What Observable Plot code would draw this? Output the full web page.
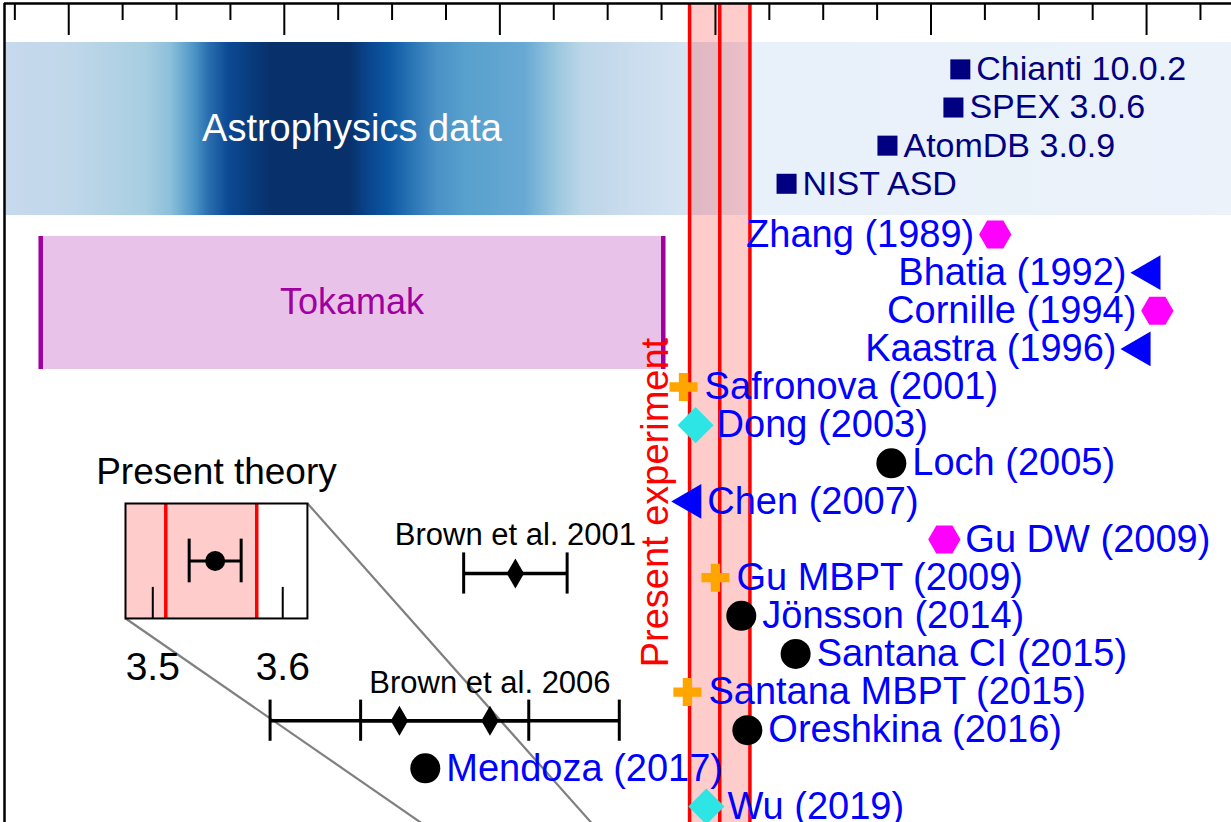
<!DOCTYPE html>
<html>
<head>
<meta charset="utf-8">
<script src="https://cdn.jsdelivr.net/npm/d3@7"></script>
<script src="https://cdn.jsdelivr.net/npm/@observablehq/plot@0.6"></script>
<style>
  html, body { margin: 0; padding: 0; background: #fff; overflow: hidden; }
  #chart { position: relative; width: 1231px; height: 822px; overflow: hidden; }
  #chart > svg { position: absolute; left: 0; top: 0; }
</style>
</head>
<body>
<div id="chart"></div>
<script>
// ---------------- DATA ----------------
// Atomic databases used in astrophysics (3C/3D oscillator-strength ratio)
const astroNames  = ["Chianti 10.0.2", "SPEX 3.0.6", "AtomDB 3.0.9", "NIST ASD"];
const astroValues = [4.068, 4.052, 3.899, 3.665];

// Theoretical predictions
const theoryNames = [
  "Zhang (1989)", "Bhatia (1992)", "Cornille (1994)", "Kaastra (1996)",
  "Safronova (2001)", "Dong (2003)", "Loch (2005)", "Chen (2007)",
  "Gu DW (2009)", "Gu MBPT (2009)", "Jönsson (2014)", "Santana CI (2015)",
  "Santana MBPT (2015)", "Oreshkina (2016)", "Mendoza (2017)", "Wu (2019)"
];
const theoryValues = [
  4.149, 4.509, 4.525, 4.486,
  3.426, 3.454, 3.908, 3.444,
  4.031, 3.500, 3.560, 3.686,
  3.435, 3.574, 2.827, 3.479
];
const theoryMethods = [
  "DW", "CC", "DW", "CC",
  "MBPT", "MCDF", "CI", "CC",
  "DW", "MBPT", "CI", "CI",
  "MBPT", "CI", "CI", "MCDF"
];

// Tokamak measurements (range) and Brown et al. EBIT measurements
const tokamakRange = [1.935, 3.379];
const brownSeries = ["Brown et al. 2001", "Brown et al. 2006", "Brown et al. 2006"];
const brownValues = [3.036, 2.767, 2.977];
const brownErrors = [0.12, 0.30, 0.30];

// Present experiment and present theory
const experimentValue = 3.51;
const experimentError = 0.07;
const presentTheoryValue = 3.548;
const presentTheoryError = 0.02;

// Axis ticks (no labels on the top axis)
const majorTicks = [2.0, 2.5, 3.0, 3.5, 4.0, 4.5];
const minorTicks = [1.875, 2.125, 2.25, 2.375, 2.625, 2.75, 2.875, 3.125, 3.25, 3.375,
                    3.625, 3.75, 3.875, 4.125, 4.25, 4.375, 4.625];
const insetTicks = [3.5, 3.6];
const insetTickLabels = ["3.5", "3.6"];

// Astrophysics-data shading (value, colour)
const astroShadeValues = [1.851, 2.011, 2.178, 2.236, 2.292, 2.324, 2.371, 2.426, 2.473, 2.651,
                          2.698, 2.742, 2.797, 2.855, 2.923, 3.057, 3.136, 3.192, 3.305, 3.417, 3.581, 4.697];
const astroShadeColors = ["#c7d9ed", "#c0d7ea", "#a8cee1", "#8dc0db", "#4c95c7", "#2b6fb0", "#0c4a94", "#083b7b",
                          "#08306b", "#08306b", "#0a468e", "#0c56a0", "#2a75b6", "#4a91c6", "#58a0cd", "#67a9d4",
                          "#9dc8df", "#bcd6e8", "#cadcee", "#d3e3f2", "#e8f0f9", "#ebf2fa"];

// ---------------- LAYOUT ----------------
const W = 1231, H = 822;
const xDomain = [1.851, 4.697];
const yDomain = [15.42, -6.058];      // row units (theory rows 0..15)
const astroRowOffset = -4.33;         // database rows sit above the theory rows
const astroBand = [-5.035, -0.498];
const tokamakRows = [0.05, 3.54];
const topRow = yDomain[1];
const insetBox = {x1: 2.132, x2: 2.554, y1: 7.055, y2: 10.07};
const insetDomain = [3.479, 3.619];
const zoomRow = 20.6;
const font = "Liberation Sans, Arial, Helvetica, sans-serif";
const labelSize = 38;

const astro = astroNames.map((name, i) => ({name, value: astroValues[i], row: i + astroRowOffset}));
const theory = theoryNames.map((name, i) => ({
  name, value: theoryValues[i], method: theoryMethods[i], row: i, left: i < 4
}));
const brown = brownSeries.map((s, i) => ({series: s, value: brownValues[i], err: brownErrors[i],
  row: s.endsWith("2001") ? 8.89 : 12.75}));
const brownLabels = d3.groups(brown, d => d.series).map(([s, arr]) => ({series: s, value: arr[arr.length - 1].value, row: arr[0].row}));

const styles = {
  DW:   {symbol: "hexagon",  fill: "#ff00ff", r: 14,   rotate: 90},
  CC:   {symbol: "triangle", fill: "#0000ff", r: 12.9, rotate: -90},
  MBPT: {symbol: "cross",    fill: "#ffa500", r: 11.8, rotate: 0},
  MCDF: {symbol: "square",   fill: "#2ee5e5", r: 14.4, rotate: 45},
  CI:   {symbol: "circle",   fill: "#000000", r: 15,   rotate: 0}
};

const expLo = experimentValue - experimentError, expHi = experimentValue + experimentError;

const theoryDots = Object.entries(styles).map(([m, s]) =>
  Plot.dot(theory.filter(d => d.method === m), {
    x: "value", y: "row", symbol: s.symbol, r: s.r, rotate: s.rotate, fill: s.fill, stroke: "none"
  })
);
const labelOpts = {x: "value", y: "row", text: "name", lineAnchor: "middle", fontSize: labelSize, fill: "#0000ff"};
const theoryLabels = [
  Plot.text(theory.filter(d => !d.left && d.method !== "CC"), {...labelOpts, textAnchor: "start", dx: 21}),
  Plot.text(theory.filter(d => !d.left && d.method === "CC"), {...labelOpts, textAnchor: "start", dx: 16}),
  Plot.text(theory.filter(d => d.left && d.method !== "CC"), {...labelOpts, textAnchor: "end", dx: -21}),
  Plot.text(theory.filter(d => d.left && d.method === "CC"), {...labelOpts, textAnchor: "end", dx: -24})
];

const plot = Plot.plot({
  width: W, height: H,
  marginLeft: 4, marginRight: 0, marginTop: 3, marginBottom: 0,
  style: {fontFamily: font, background: "transparent", overflow: "hidden"},
  x: {domain: xDomain, axis: null},
  y: {domain: yDomain, axis: null},
  marks: [
    // astrophysics shaded band
    Plot.rect([0], {x1: xDomain[0], x2: xDomain[1], y1: astroBand[0], y2: astroBand[1], fill: "url(#astroGrad)"}),
    Plot.text(["Astrophysics data"], {x: (tokamakRange[0] + tokamakRange[1]) / 2, y: (astroBand[0] + astroBand[1]) / 2,
      fill: "white", fontSize: 38, lineAnchor: "middle"}),
    // tokamak band
    Plot.rect([0], {x1: tokamakRange[0], x2: tokamakRange[1], y1: tokamakRows[0], y2: tokamakRows[1],
      fill: "#a000a0", fillOpacity: 0.24}),
    Plot.ruleX(tokamakRange, {y1: tokamakRows[0], y2: tokamakRows[1], stroke: "#a000a0", strokeWidth: 4.5}),
    Plot.text(["Tokamak"], {x: (tokamakRange[0] + tokamakRange[1]) / 2, y: (tokamakRows[0] + tokamakRows[1]) / 2,
      fill: "#a000a0", fontSize: 36, lineAnchor: "middle"}),
    // present experiment band
    Plot.rect([0], {x1: expLo, x2: expHi, fill: "red", fillOpacity: 0.2}),
    Plot.ruleX([expLo, experimentValue, expHi], {stroke: "red", strokeWidth: 3.5}),
    // top ticks
    Plot.ruleX(minorTicks, {y1: topRow, y2: topRow + 17 / 38.13, stroke: "black", strokeWidth: 2}),
    Plot.ruleX(majorTicks, {y1: topRow, y2: topRow + 32 / 38.13, stroke: "black", strokeWidth: 2}),
    // zoom lines from inset to present theory
    Plot.link([0], {x1: insetBox.x2, y1: insetBox.y1, x2: insetDomain[1], y2: zoomRow, stroke: "#808080", strokeWidth: 2.2, clip: true}),
    Plot.link([0], {x1: insetBox.x1, y1: insetBox.y2, x2: insetDomain[0], y2: zoomRow, stroke: "#808080", strokeWidth: 2.2, clip: true}),
    // Brown et al. error bars
    Plot.ruleY(brown, {x1: d => d.value - d.err, x2: d => d.value + d.err, y: "row", stroke: "black", strokeWidth: 3.5}),
    Plot.ruleX(brown, {x: d => d.value - d.err, y1: d => d.row - 0.54, y2: d => d.row + 0.54, stroke: "black", strokeWidth: 3}),
    Plot.ruleX(brown, {x: d => d.value + d.err, y1: d => d.row - 0.54, y2: d => d.row + 0.54, stroke: "black", strokeWidth: 3}),
    Plot.dot(brown, {x: "value", y: "row", symbol: "diamond", r: 9.1, fill: "black", stroke: "none"}),
    Plot.text(brownLabels, {x: "value", y: "row", text: "series", dy: -38, fontSize: 31, fill: "black", lineAnchor: "middle"}),
    // astrophysics databases
    Plot.dot(astro, {x: "value", y: "row", symbol: "square", r: 11.3, fill: "#000080", stroke: "none"}),
    Plot.text(astro, {x: "value", y: "row", text: "name", dx: 16, textAnchor: "start", lineAnchor: "middle",
      fontSize: 34, fill: "#000080"}),
    // theory predictions
    ...theoryDots,
    ...theoryLabels,
    // present experiment label
    Plot.text(["Present experiment"], {x: expLo - 0.078, y: 7.03, rotate: -90, fill: "red", fontSize: 38, lineAnchor: "middle"}),
    // frame (top and left)
    Plot.ruleY([topRow], {stroke: "black", strokeWidth: 2.5}),
    Plot.ruleX([xDomain[0]], {stroke: "black", strokeWidth: 2.5})
  ]
});

// gradient definition for the astrophysics band
const X = plot.scale("x"), Y = plot.scale("y");
const gx1 = X.apply(astroShadeValues[0]), gx2 = X.apply(astroShadeValues[astroShadeValues.length - 1]);
const defs = d3.select(plot).insert("defs", ":first-child");
const grad = defs.append("linearGradient").attr("id", "astroGrad")
  .attr("gradientUnits", "userSpaceOnUse").attr("x1", gx1).attr("x2", gx2).attr("y1", 0).attr("y2", 0);
astroShadeValues.forEach((v, i) => {
  grad.append("stop").attr("offset", (X.apply(v) - gx1) / (gx2 - gx1)).attr("stop-color", astroShadeColors[i]);
});

const chart = document.getElementById("chart");
chart.appendChild(plot);

// ---------------- INSET (present theory) ----------------
const im = {left: 40, right: 40, top: 50, bottom: 70};
const boxW = X.apply(insetBox.x2) - X.apply(insetBox.x1);
const boxH = Y.apply(insetBox.y2) - Y.apply(insetBox.y1);
const pt = {value: presentTheoryValue, lo: presentTheoryValue - presentTheoryError, hi: presentTheoryValue + presentTheoryError};

const inset = Plot.plot({
  width: boxW + im.left + im.right, height: boxH + im.top + im.bottom,
  marginLeft: im.left, marginRight: im.right, marginTop: im.top, marginBottom: im.bottom,
  style: {fontFamily: font, background: "transparent", overflow: "visible", color: "black"},
  x: {domain: insetDomain},
  y: {domain: [0, 1], axis: null},
  marks: [
    Plot.rect([0], {x1: expLo, x2: expHi, fill: "red", fillOpacity: 0.2, clip: true}),
    Plot.ruleX([expLo, experimentValue, expHi], {stroke: "red", strokeWidth: 3.5, clip: true}),
    Plot.ruleX(insetTicks, {y1: 0, y2: 0.27, stroke: "black", strokeWidth: 2}),
    Plot.ruleY([pt], {x1: "lo", x2: "hi", y: 0.5, stroke: "black", strokeWidth: 3}),
    Plot.ruleX([pt.lo, pt.hi], {y1: 0.31, y2: 0.69, stroke: "black", strokeWidth: 3}),
    Plot.dot([pt], {x: "value", y: 0.5, r: 10, fill: "black", stroke: "none"}),
    Plot.frame({stroke: "black", strokeWidth: 2}),
    Plot.axisX({anchor: "bottom", ticks: insetTicks, tickFormat: (d, i) => insetTickLabels[i],
      tickSize: 0, tickPadding: 34, fontSize: 39, label: null}),
    Plot.text(["Present theory"], {frameAnchor: "top", lineAnchor: "bottom", dy: -19, fontSize: 37, fill: "black"})
  ]
});
inset.style.position = "absolute";
inset.style.left = (X.apply(insetBox.x1) - im.left) + "px";
inset.style.top = (Y.apply(insetBox.y1) - im.top) + "px";
chart.appendChild(inset);
</script>
</body>
</html>
